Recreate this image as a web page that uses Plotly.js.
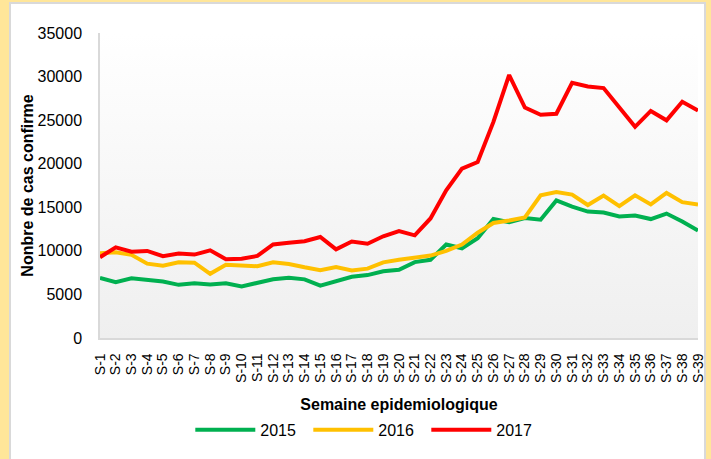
<!DOCTYPE html>
<html>
<head>
<meta charset="utf-8">
<script src="https://cdn.plot.ly/plotly-3.0.1.min.js"></script>
<style>
  html, body { margin: 0; padding: 0; width: 711px; height: 459px; overflow: hidden; background: #FFE699; }
  #frame { position: absolute; left: 9px; top: 2px; width: 693px; height: 470px; background: #ffffff; border: 2px solid #d9d9d9; }
  #chart { position: absolute; left: 0; top: 0; width: 711px; height: 459px; }
</style>
</head>
<body>
<div id="frame"></div>
<div id="chart"></div>
<script>
// Weeks (categories)
const weeks = ['S-1','S-2','S-3','S-4','S-5','S-6','S-7','S-8','S-9','S-10',
               'S-11','S-12','S-13','S-14','S-15','S-16','S-17','S-18','S-19','S-20',
               'S-21','S-22','S-23','S-24','S-25','S-26','S-27','S-28','S-29','S-30',
               'S-31','S-32','S-33','S-34','S-35','S-36','S-37','S-38','S-39'];

// Y tick values
const yTicks = [0, 5000, 10000, 15000, 20000, 25000, 30000, 35000];

// Confirmed cases per epidemiological week
const cases2015 = [6900, 6400, 6850, 6700, 6480, 6100, 6270, 6130, 6270, 5920,
                   6320, 6740, 6920, 6730, 6000, 6540, 7030, 7220, 7660, 7820,
                   8710, 8970, 10730, 10300, 11450, 13650, 13300, 13760, 13570, 15780,
                   15070, 14510, 14390, 13950, 14050, 13650, 14280, 13380, 12340];
const cases2016 = [9720, 9840, 9540, 8530, 8300, 8680, 8640, 7370, 8410, 8300,
                   8230, 8680, 8490, 8110, 7780, 8150, 7740, 7960, 8680, 8970,
                   9230, 9460, 9990, 10730, 12080, 13200, 13480, 13830, 16380, 16750,
                   16450, 15260, 16340, 15140, 16380, 15330, 16640, 15590, 15330];
const cases2017 = [9270, 10400, 9910, 9990, 9390, 9690, 9570, 10060, 9050, 9090,
                   9420, 10740, 10920, 11110, 11590, 10170, 11070, 10810, 11670, 12270,
                   11780, 13720, 16940, 19440, 20190, 24800, 30180, 26440, 25620, 25730,
                   29280, 28870, 28680, 26440, 24230, 26060, 24980, 27110, 26100];

const seriesNames = ['2015', '2016', '2017'];
const seriesColors = ['#00B050', '#FFC000', '#FF0000'];
const seriesData = [cases2015, cases2016, cases2017];

const traces = seriesData.map((vals, i) => ({
  type: 'scatter',
  mode: 'lines',
  name: seriesNames[i],
  x: weeks,
  y: vals,
  line: { color: seriesColors[i], width: 4, shape: 'linear' },
  hoverinfo: 'x+y+name'
}));

const gradSvg = '<svg xmlns="http://www.w3.org/2000/svg" width="100" height="100" preserveAspectRatio="none">' +
  '<defs><linearGradient id="g" x1="0" y1="0" x2="0" y2="1">' +
  '<stop offset="0" stop-color="#ffffff"/><stop offset="1" stop-color="#efefef"/>' +
  '</linearGradient></defs><rect width="100" height="100" fill="url(#g)"/></svg>';

const font = 'Liberation Sans, Arial, sans-serif';

const layout = {
  width: 711,
  height: 459,
  margin: { l: 100, r: 13, t: 33, b: 114 },
  paper_bgcolor: 'rgba(0,0,0,0)',
  plot_bgcolor: '#ffffff',
  font: { family: font, color: '#000000' },
  showlegend: true,
  legend: {
    orientation: 'h',
    x: 0.447, xanchor: 'center',
    y: -0.245, yanchor: 'top',
    itemwidth: 60,
    entrywidth: 43,
    entrywidthmode: 'pixels',
    font: { family: font, size: 16, color: '#000000' },
    bgcolor: 'rgba(0,0,0,0)'
  },
  images: [{
    source: 'data:image/svg+xml;charset=utf-8,' + encodeURIComponent(gradSvg),
    xref: 'paper', yref: 'paper',
    x: 0, y: 1, sizex: 1, sizey: 1,
    xanchor: 'left', yanchor: 'top',
    sizing: 'stretch', layer: 'below'
  }],
  xaxis: {
    type: 'category',
    tickmode: 'array',
    tickvals: weeks,
    ticktext: weeks,
    tickangle: -90,
    showgrid: false,
    zeroline: false,
    showline: true,
    linecolor: '#d9d9d9',
    linewidth: 1.5,
    ticks: '',
    ticklabelstandoff: 8,
    tickfont: { family: font, size: 14, color: '#000000' },
    title: { text: 'Semaine epidemiologique', font: { family: font, size: 16, color: '#000000', weight: 'bold' }, standoff: 17 },
    fixedrange: true
  },
  yaxis: {
    range: [0, 35000],
    tickmode: 'array',
    tickvals: yTicks,
    ticktext: yTicks.map(String),
    showgrid: false,
    zeroline: false,
    showline: true,
    linecolor: '#d9d9d9',
    linewidth: 1.5,
    ticks: '',
    ticklabelstandoff: 13,
    tickfont: { family: font, size: 16, color: '#000000' },
    title: { text: 'Nonbre de cas confirme', font: { family: font, size: 16, color: '#000000', weight: 'bold' }, standoff: 0 },
    fixedrange: true
  }
};

Plotly.newPlot('chart', traces, layout, { displayModeBar: false });
</script>
</body>
</html>
